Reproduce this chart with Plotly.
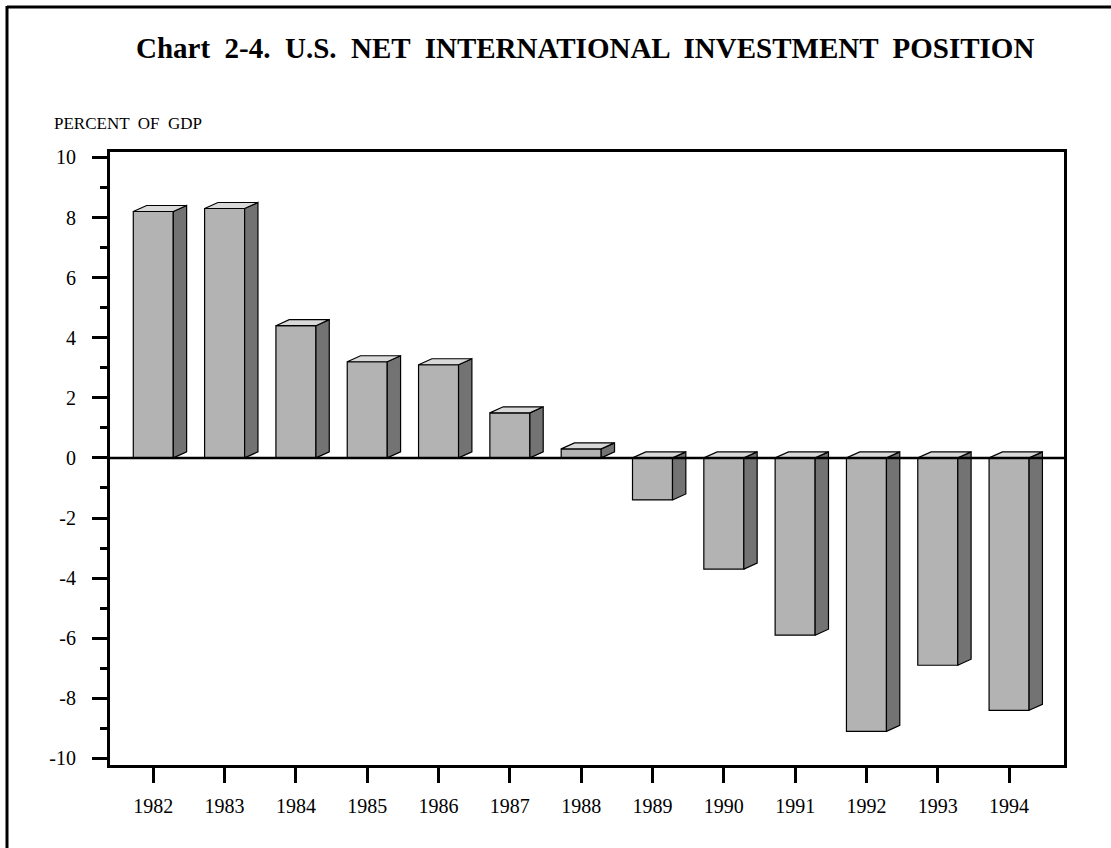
import plotly.graph_objects as go

years = ["1982", "1983", "1984", "1985", "1986", "1987", "1988",
         "1989", "1990", "1991", "1992", "1993", "1994"]
values = [8.2, 8.3, 4.4, 3.2, 3.1, 1.5, 0.3, -1.4, -3.7, -5.9, -9.1, -6.9, -8.4]
y_ticks = [-10, -8, -6, -4, -2, 0, 2, 4, 6, 8, 10]
y_tick_labels = ["-10", "-8", "-6", "-4", "-2", "0", "2", "4", "6", "8", "10"]

title_text = "Chart  2-4.  U.S.  NET  INTERNATIONAL  INVESTMENT  POSITION"
unit_text = "PERCENT  OF  GDP"

FRONT = "#b3b3b3"
SIDE = "#737373"
TOP = "#d9d9d9"
BW = 0.561   # bar width (category units)
DX = 0.187   # depth offset x (category units)
DY = 0.2     # depth offset y (value units)
FONT = "Liberation Serif, Times New Roman, serif"

xs = list(range(len(years)))
fig = go.Figure()

# side faces and top faces built from the data values
for i, v in zip(xs, values):
    lo, hi = min(0, v), max(0, v)
    xl, xr = i - BW / 2, i + BW / 2
    fig.add_trace(go.Scatter(
        x=[xr, xr + DX, xr + DX, xr, xr], y=[lo, lo + DY, hi + DY, hi, lo],
        mode="lines", fill="toself", fillcolor=SIDE,
        line=dict(color="black", width=1.2), hoverinfo="skip", showlegend=False))
    fig.add_trace(go.Scatter(
        x=[xl, xl + DX, xr + DX, xr, xl], y=[hi, hi + DY, hi + DY, hi, hi],
        mode="lines", fill="toself", fillcolor=TOP,
        line=dict(color="black", width=1.2), hoverinfo="skip", showlegend=False))

fig.add_trace(go.Bar(
    x=xs, y=values, width=BW,
    marker=dict(color=FRONT, line=dict(color="black", width=1.2)),
    showlegend=False))

fig.update_layout(
    width=1111, height=848,
    margin=dict(l=110, r=47, t=152, b=83),
    paper_bgcolor="white", plot_bgcolor="white",
    font=dict(family=FONT, color="black"),
    showlegend=False,
    xaxis=dict(
        range=[-0.607, 12.77], tickvals=xs, ticktext=years,
        showgrid=False, zeroline=False,
        showline=True, linecolor="black", linewidth=3, mirror=True,
        ticks="outside", ticklen=15, tickwidth=3, tickcolor="black",
        tickfont=dict(size=20, family=FONT, color="black"),
        ticklabelstandoff=6),
    yaxis=dict(
        range=[-10.22, 10.18], tickvals=y_ticks, ticktext=y_tick_labels,
        showgrid=False, zeroline=False,
        showline=True, linecolor="black", linewidth=3, mirror=True,
        ticks="outside", ticklen=15, tickwidth=3, tickcolor="black",
        minor=dict(dtick=1, ticks="outside", ticklen=7, tickwidth=3, tickcolor="black"),
        tickfont=dict(size=20, family=FONT, color="black"),
        ticklabelstandoff=12),
    shapes=[
        dict(type="line", xref="paper", yref="y", x0=0, x1=1, y0=0, y1=0,
             line=dict(color="black", width=2.5), layer="above"),
        # outer frame (top and left edges)
        dict(type="line", xref="paper", yref="paper",
             x0=(7 - 110) / 954, x1=(1115 - 110) / 954,
             y0=(765 - 7) / 613, y1=(765 - 7) / 613,
             line=dict(color="black", width=3)),
        dict(type="line", xref="paper", yref="paper",
             x0=(7 - 110) / 954, x1=(7 - 110) / 954,
             y0=(765 - 6) / 613, y1=(765 - 852) / 613,
             line=dict(color="black", width=3)),
    ],
    annotations=[
        dict(text="<b>" + title_text + "</b>", xref="paper", yref="paper",
             x=(585 - 110) / 954, y=(765 - 48) / 613, xanchor="center", yanchor="middle",
             showarrow=False, font=dict(size=29, family=FONT, color="black")),
        dict(text=unit_text, xref="paper", yref="paper",
             x=(52 - 110) / 954, y=(765 - 124) / 613, xanchor="left", yanchor="middle",
             showarrow=False, font=dict(size=17, family=FONT, color="black")),
    ],
)

fig.write_html("out.html", config={"displayModeBar": False},
               post_script="document.body.style.margin='0';")
